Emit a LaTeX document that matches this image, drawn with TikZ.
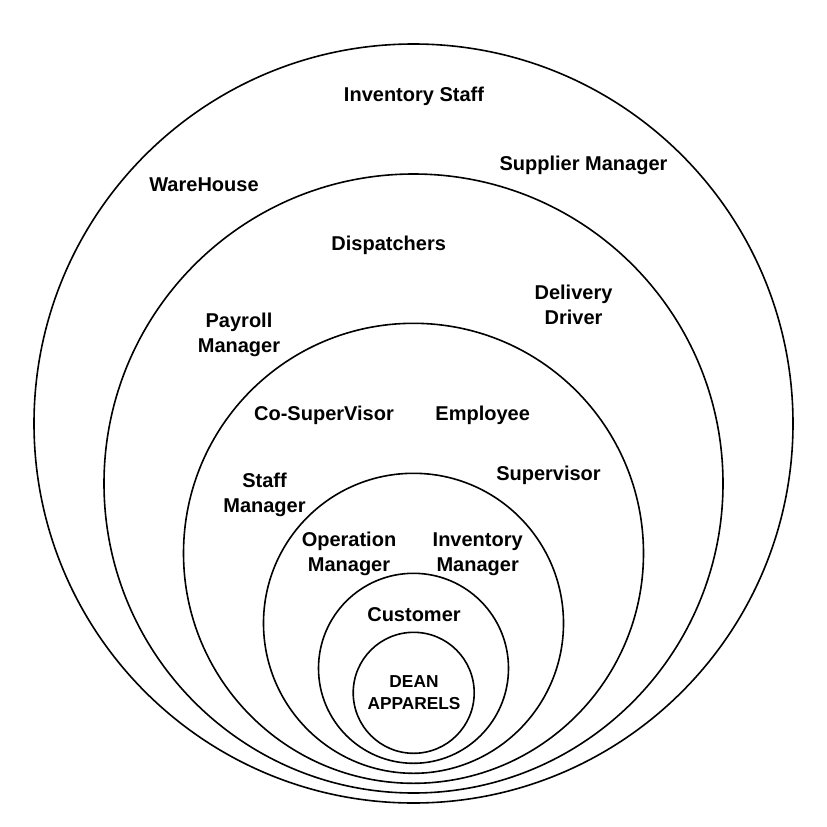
\documentclass[tikz,border=0pt]{standalone}
\usepackage{fontspec}
\setmainfont{Liberation Sans}
\begin{document}
\begin{tikzpicture}[x=1pt,y=-1pt,
    ring/.style={draw,circle,line width=1.6pt,inner sep=0pt},
    lbl/.style={font=\bfseries\fontsize{20}{24.7}\selectfont,align=center,inner sep=0pt}]
    \useasboundingbox (0,0) rectangle (827,827);
    % nested circles, all resting on the bottom
    \node[ring,minimum size=759pt] (warehouse) at (413.5,423.5) {};
    \node[ring,minimum size=619pt] (dispatch)  at (413.5,483.5) {};
    \node[ring,minimum size=460pt] (employee)  at (413.5,553.3) {};
    \node[ring,minimum size=300pt] (manager)   at (413.5,623.3) {};
    \node[ring,minimum size=190pt] (customer)  at (413.5,668.3) {};
    \node[ring,minimum size=121pt] (dean)      at (413.7,692.8) {};
    % labels
    \node[lbl] (invstaff)  at (414,96)    {Inventory Staff};
    \node[lbl] (supplier)  at (583.5,165.5) {Supplier Manager};
    \node[lbl] (whouse)    at (204,185) {WareHouse};
    \node[lbl] (dispatchers) at (388.7,245.5) {Dispatchers};
    \node[lbl] (driver)    at (573.5,305) {Delivery\\Driver};
    \node[lbl] (payroll)   at (239,335)   {Payroll\\Manager};
    \node[lbl] (cosuper)   at (324,415)   {Co-SuperVisor};
    \node[lbl] (emp)       at (482.7,415) {Employee};
    \node[lbl] (super)     at (548.5,475) {Supervisor};
    \node[lbl] (staffmgr)  at (264.5,494.7) {Staff\\Manager};
    \node[lbl] (opmgr)     at (349,554)   {Operation\\Manager};
    \node[lbl] (invmgr)    at (477.7,554) {Inventory\\Manager};
    \node[lbl] (cust)      at (414,615)   {Customer};
    \node[lbl,font=\bfseries\fontsize{17.3}{21.6}\selectfont] (deanlbl) at (414,692.5) {DEAN\\APPARELS};
\end{tikzpicture}
\end{document}
